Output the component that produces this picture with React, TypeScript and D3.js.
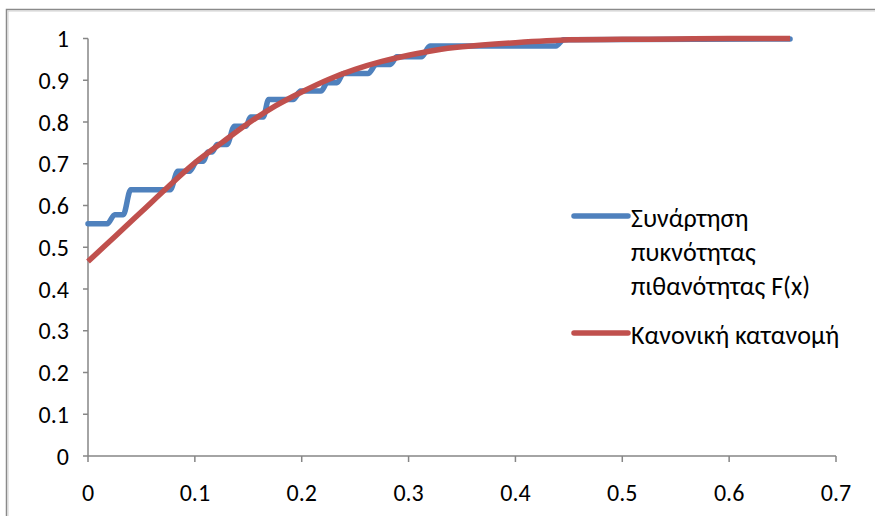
import React from "react";
import * as d3 from "d3";

const blueX = [0, 0.018, 0.025, 0.033, 0.040, 0.077, 0.084, 0.095, 0.102, 0.108, 0.112, 0.116, 0.121, 0.130, 0.137, 0.148, 0.152, 0.164, 0.169, 0.192, 0.199, 0.218, 0.224, 0.233, 0.239, 0.262, 0.270, 0.283, 0.289, 0.312, 0.320, 0.438, 0.445, 0.657];
const blueY = [0.556, 0.556, 0.578, 0.578, 0.638, 0.638, 0.682, 0.682, 0.706, 0.706, 0.728, 0.728, 0.746, 0.746, 0.79, 0.79, 0.812, 0.812, 0.854, 0.854, 0.874, 0.874, 0.894, 0.894, 0.916, 0.916, 0.938, 0.938, 0.956, 0.956, 0.982, 0.982, 0.997, 0.999];

// Red: normal distribution curve
const redX = [0, 0.025, 0.05, 0.075, 0.1, 0.125, 0.15, 0.175, 0.2, 0.225, 0.25, 0.275, 0.3, 0.325, 0.35, 0.4, 0.45, 0.5, 0.55, 0.6, 0.657];
const redY = [0.466, 0.525, 0.585, 0.645, 0.702, 0.75, 0.797, 0.838, 0.872, 0.902, 0.926, 0.945, 0.96, 0.972, 0.98, 0.99, 0.997, 0.998, 0.999, 1.0, 1.0];

const xTicks = [0, 0.1, 0.2, 0.3, 0.4, 0.5, 0.6, 0.7];
const yTicks = [0, 0.1, 0.2, 0.3, 0.4, 0.5, 0.6, 0.7, 0.8, 0.9, 1];
const legendBlue = ["Συνάρτηση", "πυκνότητας", "πιθανότητας F(x)"];
const legendRed = "Κανονική κατανομή";

const BLUE = "#4F81BD";
const RED = "#C0504D";
const AXIS = "#868686";
const FONT = "Carlito, Lato, 'Open Sans', sans-serif";

export default function App() {
  const x = d3.scaleLinear().domain([0, 0.7]).range([88, 836]);
  const y = d3.scaleLinear().domain([0, 1]).range([456, 38.5]);

  const line = d3
    .line<[number, number]>()
    .x((d) => x(d[0]))
    .y((d) => y(d[1]))
    .curve(d3.curveMonotoneX);

  const redLine = d3
    .line<[number, number]>()
    .x((d) => x(d[0]))
    .y((d) => y(d[1]))
    .curve(d3.curveCatmullRom.alpha(0.5));

  const blue = blueX.map((v, i) => [v, blueY[i]] as [number, number]);
  const red = redX.map((v, i) => [v, redY[i]] as [number, number]);

  return (
    <svg
      width={875}
      height={516}
      style={{ position: "absolute", left: 0, top: 0, background: "#fff" }}
    >
      <rect x={6.5} y={9.5} width={900} height={540} fill="#fff" stroke="#8a8a8a" strokeWidth={1.5} />
      <rect x={8} y={11} width={900} height={540} fill="none" stroke="#d0d0d0" strokeWidth={1} />

      {/* Y axis */}
      <line x1={x(0)} x2={x(0)} y1={y(1)} y2={y(0)} stroke={AXIS} strokeWidth={1.5} />
      {yTicks.map((t) => (
        <g key={"y" + t}>
          <line x1={x(0) - 5} x2={x(0)} y1={y(t)} y2={y(t)} stroke={AXIS} strokeWidth={1.5} />
          <text
            x={69}
            y={y(t)}
            textAnchor="end"
            dominantBaseline="central"
            fontFamily={FONT}
            fontSize={24}
            fill="#000"
          >
            {String(Math.round(t * 10) / 10)}
          </text>
        </g>
      ))}

      {/* X axis */}
      <line x1={x(0)} x2={x(0.7)} y1={y(0)} y2={y(0)} stroke={AXIS} strokeWidth={1.5} />
      {xTicks.map((t) => (
        <g key={"x" + t}>
          <line x1={x(t)} x2={x(t)} y1={y(0)} y2={y(0) + 6} stroke={AXIS} strokeWidth={1.5} />
          <text
            x={x(t)}
            y={492}
            textAnchor="middle"
            dominantBaseline="central"
            fontFamily={FONT}
            fontSize={24}
            fill="#000"
          >
            {String(Math.round(t * 10) / 10)}
          </text>
        </g>
      ))}

      {/* Series */}
      <path d={line(blue) || ""} fill="none" stroke={BLUE} strokeWidth={5.5} strokeLinejoin="round" strokeLinecap="round" />
      <path d={redLine(red) || ""} fill="none" stroke={RED} strokeWidth={5.5} strokeLinejoin="round" />

      {/* Legend */}
      <line x1={574} x2={628} y1={216} y2={216} stroke={BLUE} strokeWidth={5.5} strokeLinecap="round" />
      {legendBlue.map((s, i) => (
        <text
          key={s}
          x={631}
          y={218 + i * 34}
          dominantBaseline="central"
          fontFamily={FONT}
          fontSize={26}
          fill="#000"
        >
          {s}
        </text>
      ))}
      <line x1={574} x2={628} y1={333} y2={333} stroke={RED} strokeWidth={5.5} strokeLinecap="round" />
      <text x={631} y={335} dominantBaseline="central" fontFamily={FONT} fontSize={26} fill="#000">
        {legendRed}
      </text>
    </svg>
  );
}
